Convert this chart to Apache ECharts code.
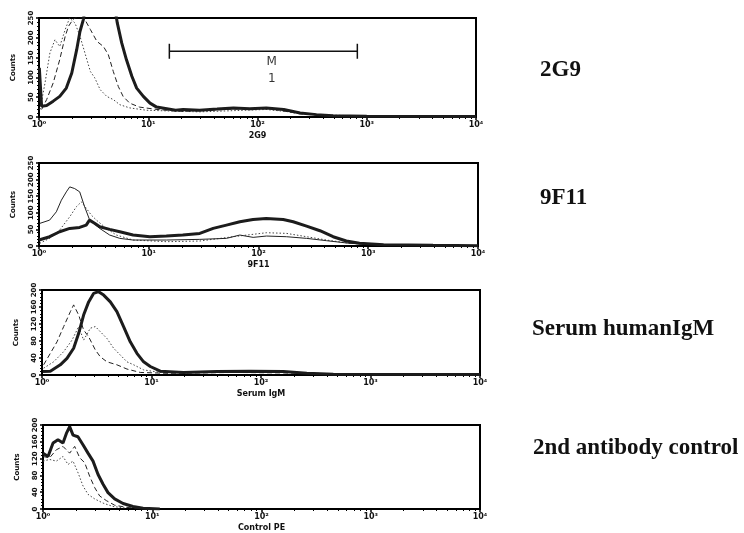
<!DOCTYPE html>
<html><head><meta charset="utf-8">
<script src="https://cdn.jsdelivr.net/npm/echarts@6/dist/echarts.min.js"></script>
<style>html,body{margin:0;padding:0;background:#fff}#c{width:744px;height:533px}</style>
</head><body><div id="c"></div>
<script>
// ---- data (x positions in log10 decades of fluorescence, y = counts) ----
const panelNames = ['2G9', '9F11', 'Serum humanIgM', '2nd antibody control'];
const axisNames = ['2G9', '9F11', 'Serum IgM', 'Control PE'];
const yMax = [250, 250, 200, 200];
const yStep = [50, 50, 40, 40];
const xTickLabels = ['10\u2070', '10\u00b9', '10\u00b2', '10\u00b3', '10\u2074'];

const p1BoldLog = [0.003,0.024,0.07,0.13,0.19,0.25,0.30,0.345,0.375,0.406,0.42,0.56,0.70,0.717,0.757,0.80,0.85,0.894,0.955,1.016,1.077,1.17,1.25,1.32,1.47,1.63,1.78,1.93,2.08,2.24,2.39,2.54,2.69,3.0,4.0];
const p1Bold = [124,27,29,40,52,73,111,170,216,246,270,300,265,237,187,145,103,73,52,35,25,21,17,19,17,20,23,21,23,19,10,6,3,2,1];
const p1DashLog = [0.024,0.07,0.13,0.19,0.24,0.27,0.31,0.36,0.42,0.47,0.53,0.59,0.635,0.68,0.726,0.77,0.83,0.92,1.08,1.32,1.78,2.08,2.39,2.69];
const p1Dash = [19,44,86,145,204,229,246,255,246,221,191,178,157,115,77,52,35,25,19,14,20,23,8,2];
const p1DotLog = [0.01,0.055,0.10,0.146,0.19,0.24,0.28,0.33,0.375,0.42,0.47,0.51,0.56,0.62,0.68,0.74,0.83,0.985,1.47,2.08,2.54,3.0];
const p1Dot = [19,86,162,195,178,221,250,237,204,162,115,99,69,52,44,31,23,17,13,19,6,2];
const markerX = [15.6, 820];
const markerY = 166;
const markerLabelX = 135;

const p2BoldLog = [0,0.097,0.188,0.28,0.37,0.43,0.46,0.51,0.553,0.644,0.736,0.857,1.01,1.16,1.31,1.465,1.587,1.708,1.83,1.95,2.07,2.225,2.316,2.438,2.56,2.68,2.80,2.92,3.14,3.59,4.0];
const p2Bold = [18,28,43,53,56,63,78,68,58,50,43,33,28,30,33,38,53,63,73,80,83,80,73,60,46,28,15,8,4,2,1];
const p2ThinLog = [0.006,0.097,0.158,0.204,0.249,0.28,0.325,0.371,0.416,0.462,0.553,0.644,0.736,0.857,1.161,1.465,1.708,1.83,1.951,2.073,2.255,2.438,2.62,2.833,3.137];
const p2Thin = [68,78,103,138,163,178,173,163,118,78,53,33,23,18,18,20,23,33,26,30,28,23,16,8,3];
const p2DotLog = [0.006,0.097,0.188,0.28,0.34,0.386,0.432,0.477,0.523,0.614,0.705,0.857,1.161,1.465,1.769,2.073,2.255,2.438,2.62,2.833,3.137];
const p2Dot = [8,23,48,88,118,133,113,93,78,53,33,18,13,15,28,40,38,28,18,8,3];

const p3BoldLog = [0.009,0.076,0.167,0.228,0.289,0.335,0.38,0.426,0.471,0.517,0.563,0.624,0.684,0.745,0.806,0.867,0.928,0.989,1.08,1.293,1.597,1.90,2.205,2.418,2.66,4.0];
const p3Bold = [8,9,24,39,63,98,141,172,192,196,188,172,149,114,78,51,31,20,9,6,8,9,8,4,2,1];
const p3DashLog = [0.015,0.076,0.137,0.198,0.259,0.289,0.335,0.38,0.426,0.487,0.532,0.593,0.684,0.776,0.897,1.141,1.749,2.205,2.662];
const p3Dash = [24,51,78,114,149,165,141,106,90,59,43,31,24,14,6,4,6,5,2];
const p3DotLog = [0.015,0.106,0.198,0.274,0.335,0.38,0.441,0.487,0.532,0.593,0.654,0.715,0.776,0.837,0.928,1.08,1.445,2.053,2.357,2.662];
const p3Dot = [16,31,55,82,114,82,110,114,102,86,63,47,31,24,12,6,6,9,6,2];

const p4BoldLog = [0,0.046,0.092,0.137,0.183,0.214,0.244,0.275,0.32,0.366,0.412,0.458,0.504,0.55,0.595,0.656,0.733,0.824,0.916,1.069];
const p4Bold = [133,125,157,165,157,180,196,176,172,153,133,114,82,59,39,24,13,6,2,0];
const p4DashLog = [0,0.061,0.122,0.183,0.244,0.29,0.336,0.382,0.427,0.473,0.519,0.58,0.656,0.763,0.916];
const p4Dash = [125,122,141,149,133,149,122,110,78,51,31,20,9,4,0];
const p4DotLog = [0,0.061,0.122,0.183,0.229,0.275,0.321,0.366,0.412,0.473,0.55,0.641,0.763];
const p4Dot = [114,118,114,125,106,114,86,55,35,24,14,6,2];

// ---- build ----
const pair = (lg, ys) => lg.map((l, i) => [Math.pow(10, l), ys[i]]);
const grids = [
  {left: 39, top: 18, width: 437, height: 99},
  {left: 39, top: 163, width: 439, height: 83},
  {left: 42, top: 290, width: 438, height: 85},
  {left: 43, top: 425, width: 437, height: 85}
];
const labelTops = [72, 200, 331, 450];
const labelLefts = [540, 540, 532, 533];

const styles = {
  bold: {color: '#1c1c1c', width: 3, type: 'solid'},
  thin: {color: '#222', width: 1, type: 'solid'},
  dash: {color: '#222', width: 1, type: [5, 3]},
  dot: {color: '#444', width: 1, type: [1.5, 2]}
};
function line(gi, data, st) {
  return {type: 'line', xAxisIndex: gi, yAxisIndex: gi, data: data, symbol: 'none',
    smooth: false, clip: true, lineStyle: styles[st], silent: true, animation: false};
}
const series = [
  line(0, pair(p1DotLog, p1Dot), 'dot'),
  line(0, pair(p1DashLog, p1Dash), 'dash'),
  line(0, pair(p1BoldLog, p1Bold), 'bold'),
  line(1, pair(p2DotLog, p2Dot), 'dot'),
  line(1, pair(p2ThinLog, p2Thin), 'thin'),
  line(1, pair(p2BoldLog, p2Bold), 'bold'),
  line(2, pair(p3DotLog, p3Dot), 'dot'),
  line(2, pair(p3DashLog, p3Dash), 'dash'),
  line(2, pair(p3BoldLog, p3Bold), 'bold'),
  line(3, pair(p4DotLog, p4Dot), 'dot'),
  line(3, pair(p4DashLog, p4Dash), 'dash'),
  line(3, pair(p4BoldLog, p4Bold), 'bold'),
  {type: 'line', xAxisIndex: 0, yAxisIndex: 0, data: markerX.map(x => [x, markerY]),
    symbol: 'rect', symbolSize: [1.5, 15], itemStyle: {color: '#111'},
    lineStyle: {color: '#111', width: 1.5}, animation: false, silent: true},
  {type: 'scatter', xAxisIndex: 0, yAxisIndex: 0, data: [[markerLabelX, markerY]],
    symbolSize: 1, itemStyle: {color: 'transparent'}, animation: false, silent: true,
    label: {show: true, position: 'bottom', distance: 2, formatter: 'M\n1',
      fontFamily: 'DejaVu Sans', fontSize: 12, lineHeight: 17, color: '#000'}}
];

const xAxis = grids.map((g, i) => ({
  type: 'log', logBase: 10, min: 1, max: 10000, gridIndex: i,
  name: axisNames[i], nameLocation: 'middle', nameGap: 15,
  nameTextStyle: {fontSize: 8, fontWeight: 'bold', color: '#111', fontFamily: 'DejaVu Sans'},
  axisLine: {show: true, lineStyle: {color: '#000', width: 2}},
  axisTick: {show: true, length: 3, lineStyle: {color: '#000', width: 1.5}},
  minorTick: {show: true, splitNumber: 9, length: 2, lineStyle: {color: '#000', width: 1}},
  splitLine: {show: false},
  axisLabel: {fontSize: 8, fontWeight: 'bold', color: '#111', margin: 4, fontFamily: 'DejaVu Sans',
    formatter: v => xTickLabels[Math.round(Math.log10(v))]}
}));
const yAxis = grids.map((g, i) => ({
  type: 'value', min: 0, max: yMax[i], interval: yStep[i], gridIndex: i,
  name: 'Counts', nameLocation: 'middle', nameGap: 22,
  nameTextStyle: {fontSize: 7, fontWeight: 'bold', color: '#111', fontFamily: 'DejaVu Sans'},
  axisLine: {show: true, lineStyle: {color: '#000', width: 2}},
  axisTick: {show: true, length: 3, lineStyle: {color: '#000', width: 1.5}},
  minorTick: {show: true, splitNumber: 5, length: 2, lineStyle: {color: '#000', width: 1}},
  splitLine: {show: false},
  axisLabel: {rotate: 90, fontSize: 7, fontWeight: 'bold', color: '#111', margin: 4, fontFamily: 'DejaVu Sans'}
}));

const graphic = panelNames.map((t, i) => ({
  type: 'text', left: labelLefts[i], top: labelTops[i] - 13,
  style: {text: t, font: 'bold 23px "Liberation Serif"', fill: '#111'}
}));

const chart = echarts.init(document.getElementById('c'), null, {renderer: 'canvas'});
chart.setOption({
  animation: false,
  grid: grids.map(g => Object.assign({show: true, borderColor: '#000', borderWidth: 2, containLabel: false}, g)),
  xAxis: xAxis, yAxis: yAxis, series: series, graphic: graphic
});
</script></body></html>
